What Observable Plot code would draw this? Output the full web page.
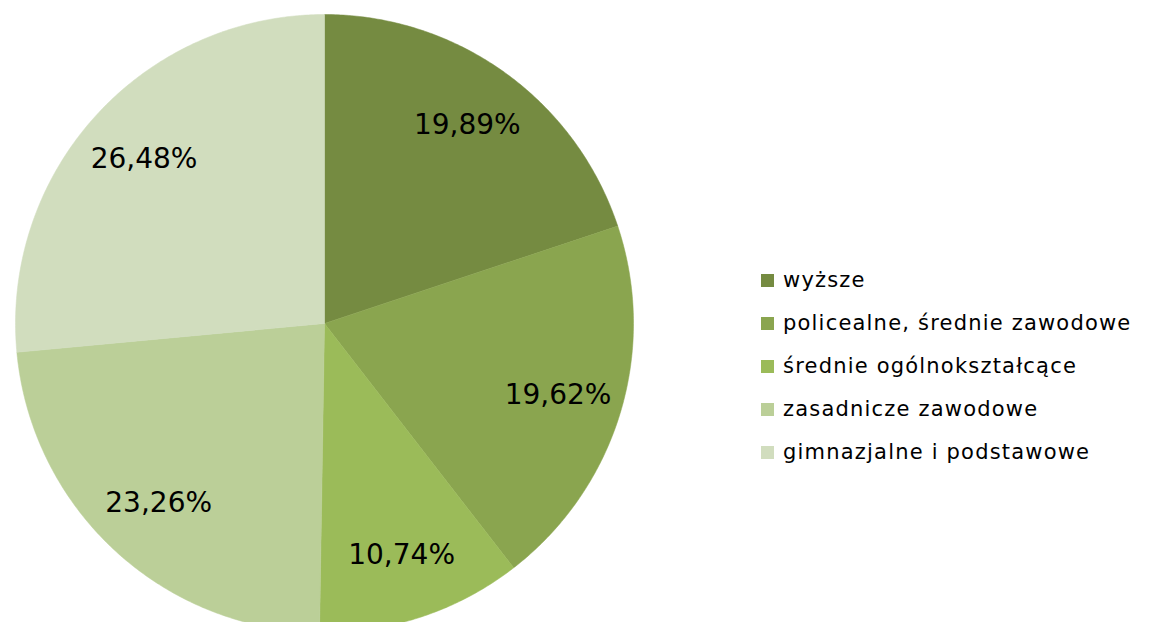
<!DOCTYPE html>
<html>
<head>
<meta charset="utf-8">
<script src="https://cdn.jsdelivr.net/npm/d3@7"></script>
<script src="https://cdn.jsdelivr.net/npm/@observablehq/plot@0.6"></script>
<style>
  html, body { margin: 0; padding: 0; background: #fff; overflow: hidden; }
  #wrap { position: relative; width: 1155px; height: 622px; overflow: hidden; }
  #chart { position: absolute; left: 0; top: 0; }
  #legend { position: absolute; left: 761px; top: 259px; }
  #legend .leg-swatches { font-family: "DejaVu Sans", Verdana, sans-serif; font-size: 21px; letter-spacing: 1.2px; color: #000; margin: 0; }
  #legend .leg-swatch { height: 42.1px; display: flex; align-items: center; }
  #legend .leg-swatch svg { margin-right: 9px; }
</style>
</head>
<body>
<div id="wrap"><div id="chart"></div><div id="legend"></div></div>
<script>
const categories = ["wyższe", "policealne, średnie zawodowe", "średnie ogólnokształcące", "zasadnicze zawodowe", "gimnazjalne i podstawowe"];
const values = [19.89, 19.62, 10.74, 23.26, 26.48];
const colors = ["#758b41", "#8aa54f", "#9bbb59", "#bbcf98", "#d1ddbe"];

const total = d3.sum(values);
let acc = 0;
const slices = categories.map((c, i) => {
  const a0 = acc / total * 2 * Math.PI;
  acc += values[i];
  const a1 = acc / total * 2 * Math.PI;
  return {cat: c, value: values[i], a0, a1, mid: (a0 + a1) / 2};
});

// polygon outline for each slice (center + arc), angle measured clockwise from top
const outline = [];
for (const s of slices) {
  outline.push({cat: s.cat, x: 0, y: 0});
  const n = Math.max(2, Math.ceil((s.a1 - s.a0) / (Math.PI / 360)));
  for (let k = 0; k <= n; k++) {
    const a = s.a0 + (s.a1 - s.a0) * k / n;
    outline.push({cat: s.cat, x: Math.sin(a), y: Math.cos(a)});
  }
  outline.push({cat: s.cat, x: 0, y: 0});
}

const labelR = 0.79;
const labels = slices.map(s => ({
  x: labelR * Math.sin(s.mid),
  y: labelR * Math.cos(s.mid),
  text: s.value.toFixed(2).replace(".", ",") + "%"
}));

const colorScale = {domain: categories, range: colors};

const chart = Plot.plot({
  width: 660,
  height: 622,
  x: {domain: [-1, 1], range: [15, 633], axis: null},
  y: {domain: [-1, 1], range: [632, 14], axis: null},
  color: colorScale,
  style: {fontFamily: "'DejaVu Sans', Verdana, sans-serif", background: "transparent"},
  marks: [
    Plot.line(outline, {x: "x", y: "y", z: "cat", fill: "cat", stroke: "cat", strokeWidth: 0.5, curve: "linear"}),
    Plot.text(labels, {x: "x", y: "y", text: "text", fontSize: 28, fill: "#000", textAnchor: "middle"})
  ]
});
document.getElementById("chart").appendChild(chart);

const legend = Plot.legend({
  color: colorScale,
  legend: "swatches",
  columns: 1,
  swatchSize: 13,
  className: "leg"
});
document.getElementById("legend").appendChild(legend);
</script>
</body>
</html>
